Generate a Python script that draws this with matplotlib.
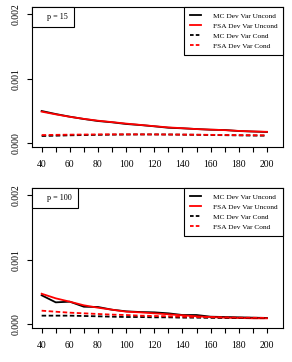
import matplotlib
matplotlib.use("Agg")
import matplotlib.pyplot as plt
from matplotlib.lines import Line2D

# sample sizes on the x axis
n_vals = [40, 50, 60, 70, 80, 90, 100, 110, 120, 130, 140, 150, 160, 170, 180, 190, 200]

# p = 15
mc_uncond_15 = [0.000500, 0.000453, 0.000412, 0.000376, 0.000345, 0.000325, 0.000299, 0.000283, 0.000263,
                0.000241, 0.000232, 0.000221, 0.000210, 0.000206, 0.000190, 0.000182, 0.000175]
fsa_uncond_15 = [0.000490, 0.000448, 0.000410, 0.000378, 0.000350, 0.000328, 0.000305, 0.000285, 0.000265,
                 0.000246, 0.000234, 0.000220, 0.000212, 0.000204, 0.000192, 0.000184, 0.000178]
mc_cond_15 = [0.000113, 0.000118, 0.000124, 0.000128, 0.000131, 0.000134, 0.000136, 0.000137, 0.000137,
              0.000136, 0.000134, 0.000132, 0.000129, 0.000126, 0.000123, 0.000120, 0.000118]
fsa_cond_15 = [0.000128, 0.000131, 0.000134, 0.000136, 0.000138, 0.000139, 0.000139, 0.000139, 0.000138,
               0.000137, 0.000135, 0.000133, 0.000131, 0.000129, 0.000127, 0.000126, 0.000124]

# p = 100
mc_uncond_100 = [0.000449, 0.000340, 0.000350, 0.000272, 0.000268, 0.000226, 0.000201, 0.000190, 0.000185,
                 0.000170, 0.000144, 0.000144, 0.000118, 0.000113, 0.000108, 0.000103, 0.000098]
fsa_uncond_100 = [0.000473, 0.000402, 0.000350, 0.000294, 0.000257, 0.000226, 0.000196, 0.000185, 0.000170,
                  0.000155, 0.000139, 0.000124, 0.000113, 0.000103, 0.000098, 0.000093, 0.000093]
mc_cond_100 = [0.000134, 0.000134, 0.000134, 0.000129, 0.000124, 0.000118, 0.000113, 0.000113, 0.000108,
               0.000108, 0.000103, 0.000103, 0.000100, 0.000099, 0.000098, 0.000096, 0.000095]
fsa_cond_100 = [0.000211, 0.000195, 0.000180, 0.000170, 0.000160, 0.000150, 0.000144, 0.000134, 0.000129,
                0.000124, 0.000118, 0.000113, 0.000110, 0.000106, 0.000103, 0.000101, 0.000100]

series_labels = ["MC Dev Var Uncond", "FSA Dev Var Uncond", "MC Dev Var Cond", "FSA Dev Var Cond"]
y_ticks = [0.0, 0.001, 0.002]
y_ticklabels = ["0.000", "0.001", "0.002"]

FONT = "Liberation Serif"
plt.rcParams["font.family"] = FONT
DASH = (2.5, 1.4)
LEG_DASH = (2.0, 1.2)
LW = 1.3


def draw_panel(ax, mc_u, fsa_u, mc_c, fsa_c, tag):
    ax.plot(n_vals, mc_u, color="black", lw=LW)
    ax.plot(n_vals, fsa_u, color="red", lw=LW)
    ax.plot(n_vals, mc_c, color="black", lw=LW, dashes=DASH)
    ax.plot(n_vals, fsa_c, color="red", lw=LW, dashes=DASH)

    ax.set_xlim(33.5, 211.6)
    ax.set_ylim(-0.000057, 0.002108)
    ax.set_xticks(n_vals)
    ax.set_xticklabels([str(n) if n % 20 == 0 else "" for n in n_vals])
    ax.set_yticks(y_ticks)
    ax.set_yticklabels(y_ticklabels, rotation=90, va="center")
    ax.tick_params(axis="both", direction="out", length=3.6, width=0.8, labelsize=6.9)
    ax.tick_params(axis="x", pad=5.5)
    ax.tick_params(axis="y", pad=5)
    for s in ax.spines.values():
        s.set_linewidth(0.8)

    tag_leg = ax.legend([Line2D([], [], color="none")], [tag], loc="upper left",
                        borderaxespad=0, fancybox=False, edgecolor="black",
                        framealpha=1, fontsize=5.9, handlelength=0.55,
                        handletextpad=0.5, borderpad=0.72)
    tag_leg.get_frame().set_linewidth(0.8)
    ax.add_artist(tag_leg)

    handles = [Line2D([], [], color="black", lw=LW),
               Line2D([], [], color="red", lw=LW),
               Line2D([], [], color="black", lw=LW, dashes=LEG_DASH),
               Line2D([], [], color="red", lw=LW, dashes=LEG_DASH)]
    leg = ax.legend(handles, series_labels, loc="upper right", borderaxespad=0,
                    fancybox=False, edgecolor="black", framealpha=1, fontsize=5.3,
                    handlelength=1.45, handletextpad=1.6, labelspacing=0.52,
                    borderpad=0.8)
    leg.get_frame().set_linewidth(0.8)


fig = plt.figure(figsize=(2.92, 3.62), dpi=100)
ax1 = fig.add_axes([0.1113, 0.5939, 0.8589, 0.3867])
ax2 = fig.add_axes([0.1113, 0.0939, 0.8589, 0.3867])

draw_panel(ax1, mc_uncond_15, fsa_uncond_15, mc_cond_15, fsa_cond_15, "p = 15")
draw_panel(ax2, mc_uncond_100, fsa_uncond_100, mc_cond_100, fsa_cond_100, "p = 100")

fig.savefig("out.png", dpi=100)
